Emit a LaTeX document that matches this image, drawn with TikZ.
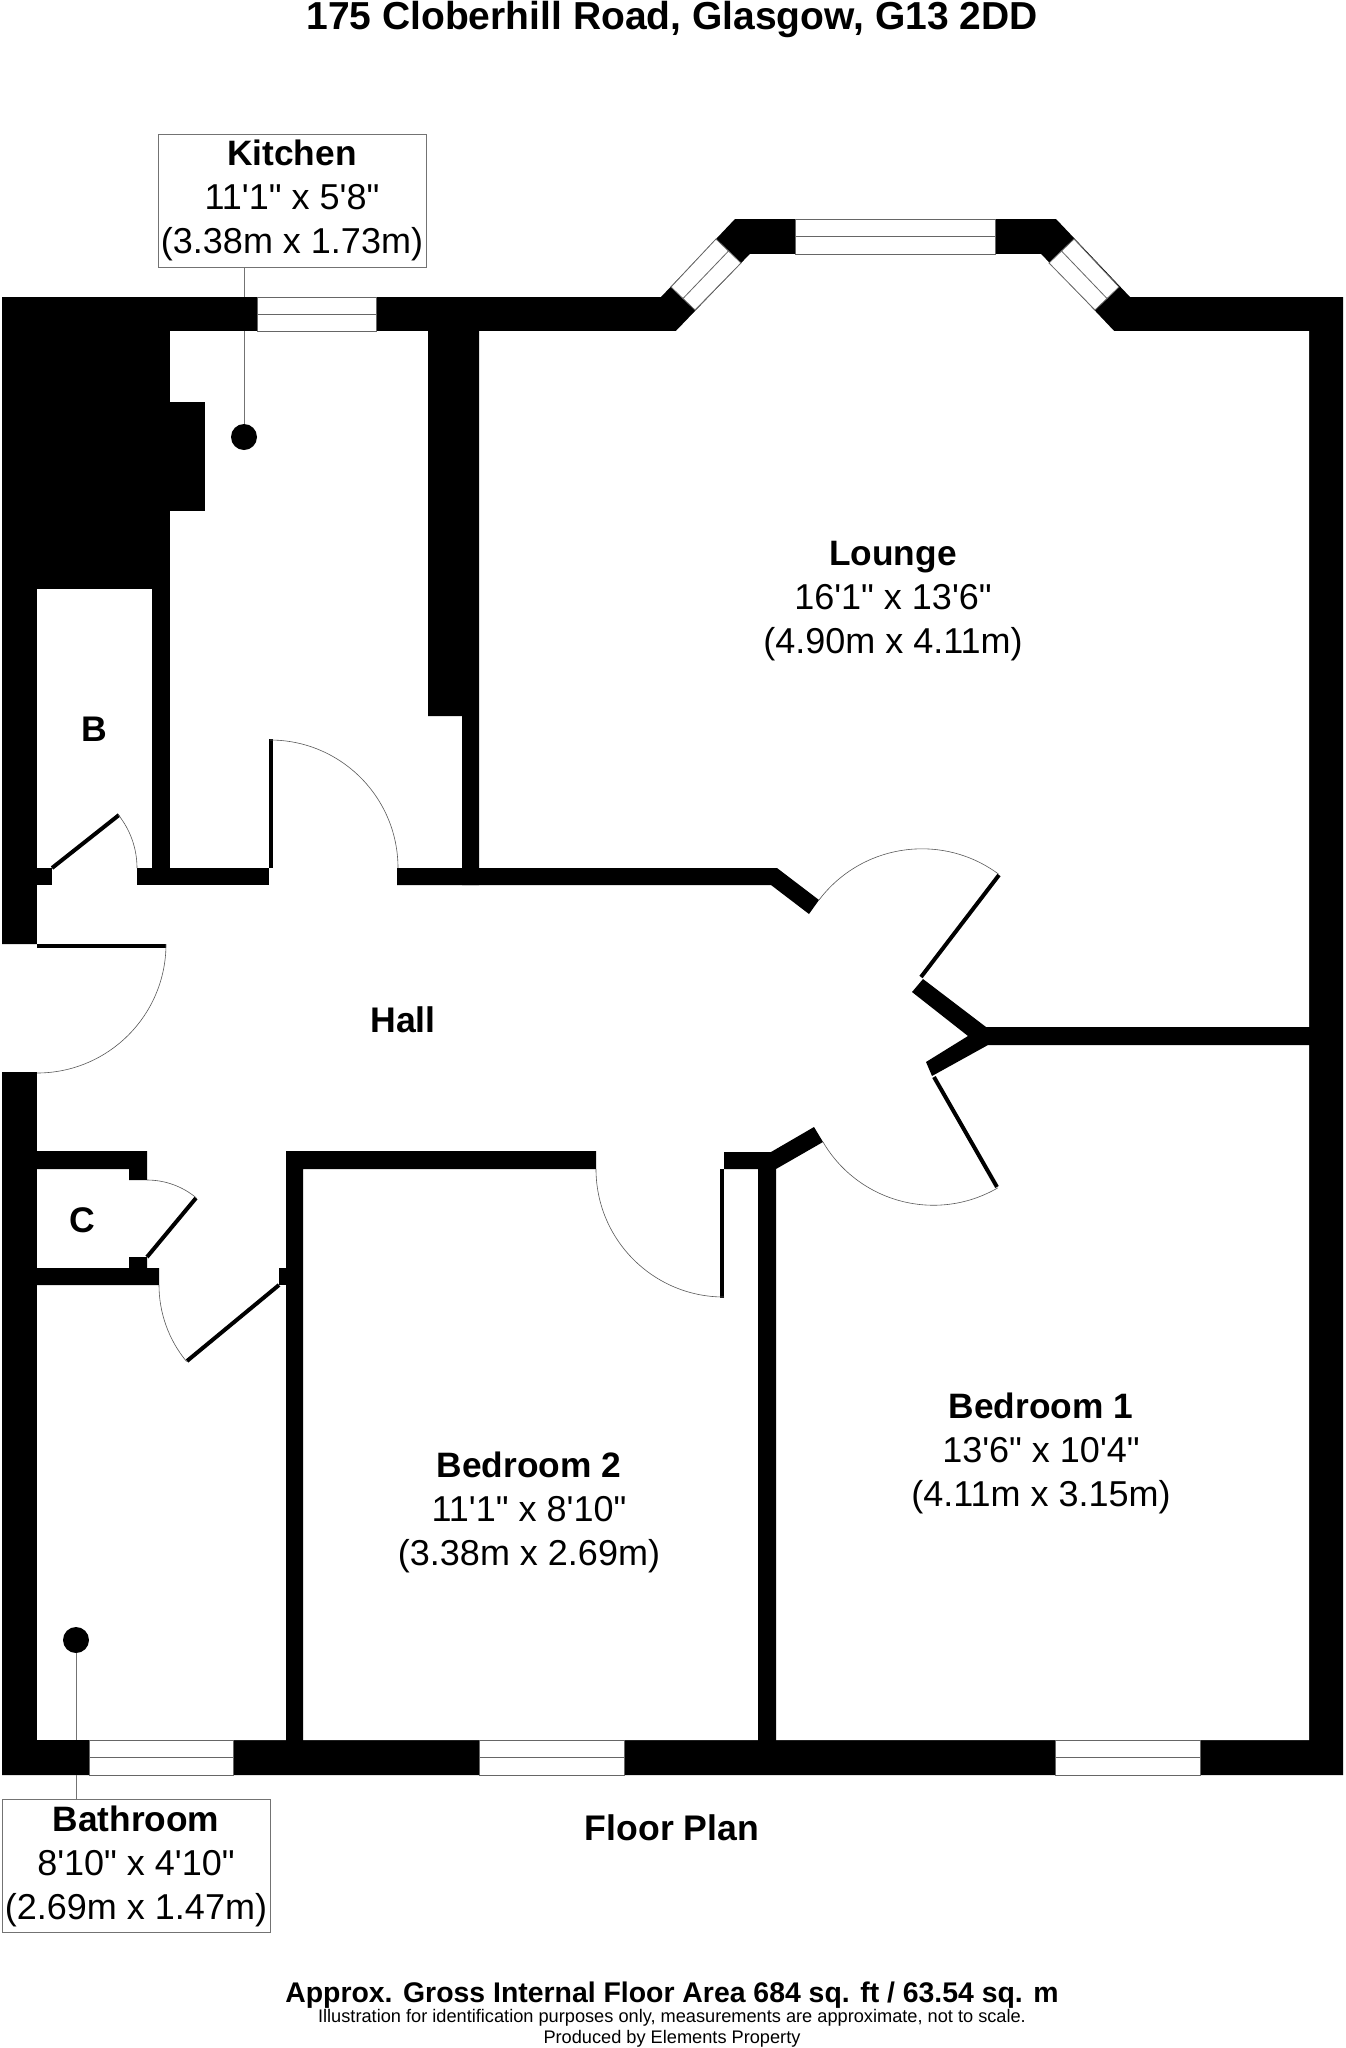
\documentclass[tikz,border=0pt]{standalone}
\usepackage{fontspec}
\setmainfont[Ligatures=TeXOff]{Liberation Sans}
\usetikzlibrary{calc,positioning}

\begin{document}
\begin{tikzpicture}[x=1pt,y=-1pt]

	\tikzset{
	wall/.style={fill=black, draw=none},
	clear/.style={fill=white, draw=none},
	glass/.style={fill=white, draw=black!60, line width=.8pt},
	leaf/.style={draw=black, line width=4pt},
	swing/.style={draw=black!65, line width=.6pt},
	leader/.style={draw=black!55, line width=.9pt},
	lamp/.style={circle, fill=black, inner sep=0pt, minimum size=26pt},
	room/.style={align=center, inner sep=0pt, font=\fontsize{36}{44}\selectfont},
	room box/.style={room, draw=black!55, line width=.9pt, fill=white, minimum width=268pt, minimum height=133pt},
	big label/.style={inner sep=0pt, font=\fontsize{35.6}{44}\selectfont\bfseries},
	small label/.style={inner sep=0pt, font=\fontsize{18.2}{22}\selectfont}
}
\newcommand{\roomname}[1]{{\fontsize{35.3}{44}\selectfont\bfseries #1}}

\useasboundingbox (0,0) rectangle (1345,2048);

\node[inner sep=0pt,font=\fontsize{39}{44}\selectfont\bfseries](title) at (672,19.5){175 Cloberhill Road, Glasgow, G13 2DD};
\node[big label](plan) at (672,1828){Floor Plan};
\node[inner sep=0pt,font=\fontsize{28.4}{32}\selectfont\bfseries](area) at (672,1995){Approx. Gross Internal Floor Area 684 sq. ft / 63.54 sq. m};
\node[small label](note) at (672,2018){Illustration for identification purposes only, measurements are approximate, not to scale.};
\node[small label](maker) at (672,2039){Produced by Elements Property};

% shell and the space inside it
\fill[wall] (2,297) -- (661,297) -- (735,219) -- (1056,219) -- (1130,297) -- (1343,297) -- (1343,1775) -- (2,1775) -- (2,1072) -- (37,1072) -- (37,944) -- (2,944) -- cycle;
\fill[clear] (170,331) -- (676,331) -- (750,254) -- (1041,254) -- (1114,331) -- (1309,331) -- (1309,1740) -- (37,1740) -- (37,589) -- (170,589) -- cycle;

\node[room box](kitchen) at (292,200.5){\roomname{Kitchen}\\11'1" x 5'8"\\(3.38m x 1.73m)};
\node[room box](bathroom) at (136,1866){\roomname{Bathroom}\\8'10" x 4'10"\\(2.69m x 1.47m)};
\node[lamp](kitchen lamp) at (244,437){};
\node[lamp](bathroom lamp) at (76,1640){};
\draw[leader] (kitchen.south -| kitchen lamp) -- (kitchen lamp);
\draw[leader] (bathroom.north -| bathroom lamp) -- (bathroom lamp);
\fill[wall] (170,297) rectangle (257,331);
\fill[wall] (37,1740) rectangle (89,1775);

% inner walls
\fill[wall] (170,402) rectangle (205,511);
\fill[wall] (152,589) rectangle (170,885);
\fill[wall] (428,325) -- (479,325) -- (479,885) -- (462,885) -- (462,716) -- (428,716) -- cycle;
\fill[wall] (30,868) rectangle (52,885);
\fill[wall] (137,868) rectangle (269,885);
\fill[wall] (269,739) rectangle (273,868);
\fill[wall] (397,868) -- (777,868) -- (819,900) -- (809,914) -- (771,885) -- (397,885) -- cycle;
\fill[wall] (923,979) -- (986,1027) -- (1318,1027) -- (1318,1045) -- (988,1045) -- (932,1076) -- (926,1062) -- (968,1036) -- (912,992) -- cycle;
\fill[wall] (814,1127) -- (823,1142) -- (776,1169) -- (776,1748) -- (758,1748) -- (758,1169) -- (724,1169) -- (724,1152) -- (771,1152) -- cycle;
\fill[wall] (286,1151) -- (596,1151) -- (596,1169) -- (303,1169) -- (303,1748) -- (286,1748) -- cycle;
\fill[wall] (279,1268) rectangle (286,1285);
\fill[wall] (30,1151) -- (147,1151) -- (147,1180) -- (129,1180) -- (129,1169) -- (30,1169) -- cycle;
\fill[wall] (30,1268) -- (129,1268) -- (129,1257) -- (147,1257) -- (147,1268) -- (159,1268) -- (159,1285) -- (30,1285) -- cycle;

% windows
\foreach \xa/\xb/\ya/\yb in {257/376/297/331,795/995/219/254,89/233/1740/1775,479/624/1740/1775,1055/1200/1740/1775}{
	\draw[glass] (\xa,\ya) rectangle (\xb,\yb);
	\draw[glass] (\xa,{(\ya+\yb)/2}) -- (\xb,{(\ya+\yb)/2});
}
\draw[glass] (716,239) -- (741,263) -- (695,310) -- (671,287) -- cycle;
\draw[glass] (728.5,251) -- (683,298.5);
\draw[glass] (1074,239) -- (1049,263) -- (1095,310) -- (1119,287) -- cycle;
\draw[glass] (1061.5,251) -- (1107,298.5);

% doors
\draw[leaf] (37,946) -- (166,946);
\draw[swing] (166,944) arc[start angle=0,end angle=90,radius=129];
\draw[leaf] (52,868) -- (119,815);
\draw[swing] (137,868) arc[start angle=0,end angle=-38.9,radius=85];
\draw[swing] (398,868) arc[start angle=0,end angle=-90,radius=128];
\draw[leaf] (722,1169) -- (722,1298);
\draw[swing] (596,1169) arc[start angle=180,end angle=90,radius=128];
\draw[leaf] (921,977) -- (999,875);
\draw[swing] (819,900) arc[start angle=-142.9,end angle=-53.6,radius=129];
\draw[leaf] (934,1077) -- (997,1187);
\draw[swing] (823,1142) arc[start angle=149.6,end angle=59.8,radius=128];
\draw[leaf] (147,1257) -- (196,1198);
\draw[swing] (147,1180) arc[start angle=-90,end angle=-50.3,radius=77];
\draw[leaf] (279,1285) -- (187,1361);
\draw[swing] (159,1285) arc[start angle=180,end angle=140.4,radius=120];

\node[room](lounge) at (893,601){\roomname{Lounge}\\16'1" x 13'6"\\(4.90m x 4.11m)};
\node[room](bedroom one) at (1041,1453){\roomname{Bedroom 1}\\13'6" x 10'4"\\(4.11m x 3.15m)};
\node[room](bedroom two) at (529,1512){\roomname{Bedroom 2}\\11'1" x 8'10"\\(3.38m x 2.69m)};
\node[big label](hall) at (403,1020){Hall};
\node[big label](cupboard b) at (94,729){B};
\node[big label](cupboard c) at (82,1220){C};

\end{tikzpicture}
\end{document}
